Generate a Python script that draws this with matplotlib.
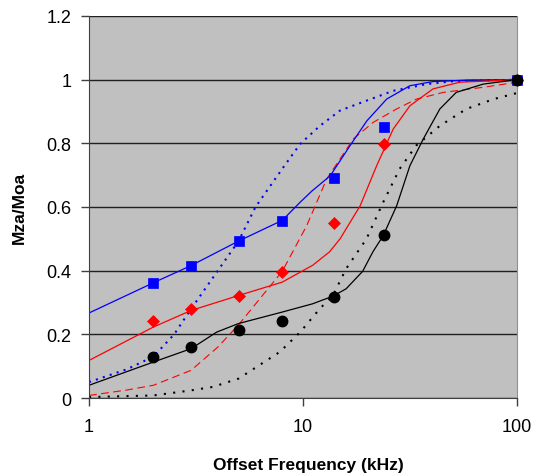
import matplotlib.pyplot as plt
from matplotlib.ticker import FixedLocator, NullLocator, FixedFormatter

plt.rcParams["font.family"] = ["Liberation Sans", "DejaVu Sans"]

## measured points
f_meas = [2, 3, 5, 8, 14, 24, 100]
blue_pts = [0.362, 0.415, 0.492, 0.557, 0.692, 0.850, 1.0]
red_pts = [0.243, 0.279, 0.320, 0.397, 0.550, 0.799, 1.0]
black_pts = [0.128, 0.161, 0.214, 0.242, 0.318, 0.511, 1.0]

## model curves
f_blue_solid = [1, 2, 3, 5, 8, 9.7, 11, 13.4, 16.6, 19.9, 24.6, 31.6, 40.5, 60, 100]
blue_solid = [0.267, 0.362, 0.416, 0.493, 0.558, 0.615, 0.65, 0.698, 0.793, 0.871, 0.939, 0.981, 0.994, 0.999, 1.0]

f_blue_dot = [1, 1.5, 2, 2.5, 3, 4, 5, 6, 8, 9.7, 12, 14.9, 19.8, 26.4, 37.8, 50, 100]
blue_dot = [0.05, 0.09, 0.13, 0.2, 0.28, 0.40, 0.493, 0.6, 0.72, 0.798, 0.855, 0.903, 0.934, 0.965, 0.986, 0.995, 1.0]

f_red_solid = [1, 2, 3, 5, 8, 11.1, 13.3, 14.9, 18.5, 22.1, 26.4, 31.6, 40.5, 54, 100]
red_solid = [0.118, 0.223, 0.275, 0.322, 0.364, 0.417, 0.459, 0.50, 0.604, 0.73, 0.845, 0.918, 0.971, 0.992, 1.0]

f_red_dash = [1, 1.5, 2, 3, 4, 5, 8, 10.4, 12.9, 17.2, 21.3, 27.4, 33.9, 45.3, 69.5, 100]
red_dash = [0.008, 0.025, 0.04, 0.087, 0.16, 0.23, 0.398, 0.541, 0.688, 0.814, 0.866, 0.908, 0.939, 0.96, 0.976, 0.992]

f_black_solid = [1, 2, 3, 3.95, 5, 8, 11.1, 13.8, 15.9, 19, 21.2, 23.7, 27.4, 31.6, 36.5, 43.6, 52, 69.5, 100]
black_solid = [0.04, 0.113, 0.155, 0.207, 0.234, 0.27, 0.296, 0.32, 0.343, 0.398, 0.459, 0.51, 0.604, 0.73, 0.814, 0.908, 0.96, 0.986, 1.0]

f_black_dot = [1, 2, 3, 3.8, 5, 7.8, 9.7, 12, 13.8, 15.9, 19.8, 23.7, 28.3, 33.8, 43.6, 58, 77.8, 100]
black_dot = [0.003, 0.008, 0.024, 0.035, 0.061, 0.145, 0.207, 0.281, 0.322, 0.406, 0.50, 0.615, 0.72, 0.793, 0.855, 0.908, 0.939, 0.958]

y_ticks = [0, 0.2, 0.4, 0.6, 0.8, 1.0, 1.2]
y_ticklabels = ['0', '0.2', '0.4', '0.6', '0.8', '1', '1.2']
x_ticks = [1, 10, 100]
x_ticklabels = ['1', '10', '100']

fig = plt.figure(figsize=(5.37, 4.77), dpi=100)
ax = fig.add_axes([0.1657, 0.1635, 0.7971, 0.8009])
ax.set_facecolor('#c0c0c0')

## curves
ax.plot(f_blue_dot, blue_dot, color='#0000ff', lw=1.5, linestyle=(0, (1, 2.5)))
ax.plot(f_red_dash, red_dash, color='#ff0000', lw=0.8, linestyle=(0, (7, 4)))
ax.plot(f_black_dot, black_dot, color='black', lw=1.5, linestyle=(0, (1, 3.5)))
ax.plot(f_blue_solid, blue_solid, color='#0000ff', lw=0.9)
ax.plot(f_red_solid, red_solid, color='#ff0000', lw=0.9)
ax.plot(f_black_solid, black_solid, color='black', lw=0.9)

## points
ax.plot(f_meas, blue_pts, 's', color='#0000ff', ms=7.5, mec='#0000ff', mew=0.5, clip_on=False, zorder=5)
ax.plot(f_meas, red_pts, 'D', color='#ff0000', ms=6.5, mec='#ff0000', mew=0.5, clip_on=False, zorder=5)
ax.plot(f_meas, black_pts, 'o', color='black', ms=7.5, clip_on=False, zorder=6)

ax.set_xscale('log')
ax.set_xlim(1, 100)
ax.set_ylim(0, 1.2)
ax.xaxis.set_major_locator(FixedLocator(x_ticks))
ax.xaxis.set_major_formatter(FixedFormatter(x_ticklabels))
ax.xaxis.set_minor_locator(NullLocator())
ax.set_yticks(y_ticks)
ax.set_yticklabels(y_ticklabels)

## grid, spines, ticks
ax.grid(True, which='major', axis='y', color='#202020', linewidth=1)
ax.set_axisbelow(True)
ax.spines['top'].set_visible(False)
ax.spines['right'].set_color('#909090')
ax.spines['left'].set_color('#404040')
ax.spines['bottom'].set_color('#404040')
ax.tick_params(axis='both', direction='out', length=5.5, width=1, color='#404040', labelsize=13)
ax.tick_params(axis='y', pad=7)
ax.tick_params(axis='x', pad=9)

ax.set_xlabel('Offset Frequency (kHz)', fontsize=12.5, fontweight='bold', labelpad=12)
ax.set_ylabel('Mza/Moa', fontsize=12.5, fontweight='bold', labelpad=14)
ax.xaxis.set_label_coords(0.512, -0.155)

fig.savefig('out.png', dpi=100)
